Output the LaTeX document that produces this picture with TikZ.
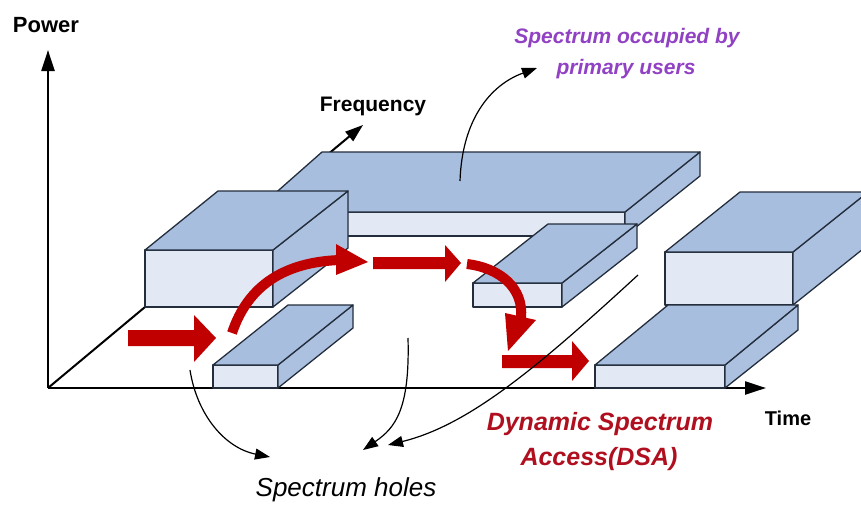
\documentclass[tikz,border=0pt]{standalone}
\usepackage{fontspec}
\setmainfont{Liberation Sans}
\usetikzlibrary{arrows.meta}
\definecolor{topc}{RGB}{168,190,222}
\definecolor{frontc}{RGB}{226,233,245}
\definecolor{sidec}{RGB}{172,193,223}
\definecolor{edgec}{RGB}{35,45,60}
\definecolor{reda}{RGB}{192,0,0}
\definecolor{redt}{RGB}{175,15,30}
\definecolor{purp}{RGB}{145,65,195}
\tikzset{
  face/.style={draw=edgec, line width=1.3pt, line join=round},
  topface/.style={face, fill=topc},
  frontface/.style={face, fill=frontc},
  sideface/.style={face, fill=sidec},
  axisline/.style={line width=2.3pt, -{Triangle[length=21pt,width=13pt]}},
  note/.style={line width=1.2pt, -{Triangle[length=15pt,width=11pt]}},
  redfill/.style={fill=reda, draw=none},
  redline/.style={draw=reda, line width=10pt},
  lbl/.style={inner sep=0pt, anchor=base}
}
\begin{document}
\begin{tikzpicture}[x=1pt,y=-1pt]
\useasboundingbox (0,0) rectangle (861,506);
\begin{scope}
\clip (0,0) rectangle (861,506);
% axes
\coordinate (O) at (48,388);
\coordinate (ptop) at (48,50);
\coordinate (ttip) at (766,388);
\coordinate (ftip) at (363,125);
\draw[axisline] (O) -- (ptop);
\draw[axisline] (O) -- (ttip);
\draw[line width=2pt, -{Triangle[length=18pt,width=12pt]}] (O) -- (ftip);

% back slab B
\draw[frontface] (254,212) -- (625,212) -- (625,236) -- (254,236) -- cycle;
\draw[sideface] (625,212) -- (700,152) -- (700,176) -- (625,236) -- cycle;
\draw[topface] (254,212) -- (625,212) -- (700,152) -- (322,152) -- cycle;

% big left box A
\draw[frontface] (145,250) -- (273,250) -- (273,307) -- (145,307) -- cycle;
\draw[sideface] (273,250) -- (348,191) -- (348,248) -- (273,307) -- cycle;
\draw[topface] (145,250) -- (273,250) -- (348,191) -- (218,191) -- cycle;

% middle slab C
\draw[frontface] (473,283) -- (562,283) -- (562,307) -- (473,307) -- cycle;
\draw[sideface] (562,283) -- (637,224) -- (637,248) -- (562,307) -- cycle;
\draw[topface] (473,283) -- (562,283) -- (637,224) -- (548,224) -- cycle;

% tall right box F
\draw[frontface] (665,252) -- (793,252) -- (793,305) -- (665,305) -- cycle;
\draw[sideface] (793,252) -- (868,192) -- (868,245) -- (793,305) -- cycle;
\draw[topface] (665,252) -- (793,252) -- (868,192) -- (740,192) -- cycle;

% front slab D
\draw[frontface] (213,365) -- (278,365) -- (278,388) -- (213,388) -- cycle;
\draw[sideface] (278,365) -- (353,305) -- (353,328) -- (278,388) -- cycle;
\draw[topface] (213,365) -- (278,365) -- (353,305) -- (288,305) -- cycle;

% front right slab E
\draw[frontface] (595,365) -- (725,365) -- (725,388) -- (595,388) -- cycle;
\draw[sideface] (725,365) -- (798,305) -- (798,330) -- (725,388) -- cycle;
\draw[topface] (595,365) -- (725,365) -- (798,305) -- (668,305) -- cycle;

% red arrows
\fill[redfill] (128,330) -- (194,330) -- (194,315) -- (216,338) -- (194,362) -- (194,346) -- (128,346) -- cycle;
\draw[redline] (232,333) .. controls (248,285) and (285,262) .. (340,260);
\fill[redfill] (336,244) -- (368,262) -- (336,275) -- cycle;
\fill[redfill] (373,257) -- (445,257) -- (445,245) -- (461,263) -- (445,282) -- (445,269) -- (373,269) -- cycle;
\draw[redline] (467,264) .. controls (500,268) and (524,288) .. (521,318);
\fill[redfill] (505,313) -- (536,320) -- (508,351) -- cycle;
\fill[redfill] (502,355) -- (572,355) -- (572,341) -- (589,361) -- (572,381) -- (572,368) -- (502,368) -- cycle;
\end{scope}

% annotation curves
\draw[note] (460,181) .. controls (462,120) and (490,85) .. (537,68);
\draw[note] (190,370) .. controls (197,415) and (225,448) .. (270,457);
\draw[note] (408,338) .. controls (410,410) and (395,428) .. (363,450);
\draw[note] (638,275) .. controls (540,365) and (470,425) .. (388,445);

% labels
\node[lbl, font=\fontsize{22}{26}\selectfont\bfseries] (power) at (46,32) {Power};
\node[lbl, font=\fontsize{21}{25}\selectfont\bfseries] (freq) at (373,111) {Frequency};
\node[lbl, font=\fontsize{20}{24}\selectfont\bfseries] (time) at (788,425) {Time};
\node[lbl, font=\fontsize{21}{25}\selectfont\bfseries\itshape, text=purp] (occ1) at (627,43) {Spectrum occupied by};
\node[lbl, font=\fontsize{21}{25}\selectfont\bfseries\itshape, text=purp] (occ2) at (626,74) {primary users};
\node[lbl, font=\fontsize{25}{30}\selectfont\bfseries\itshape, text=redt] (dsa1) at (600,430) {Dynamic Spectrum};
\node[lbl, font=\fontsize{25}{30}\selectfont\bfseries\itshape, text=redt] (dsa2) at (599,465) {Access(DSA)};
\node[lbl, font=\fontsize{26}{30}\selectfont\itshape] (holes) at (346,496) {Spectrum holes};
\end{tikzpicture}
\end{document}
